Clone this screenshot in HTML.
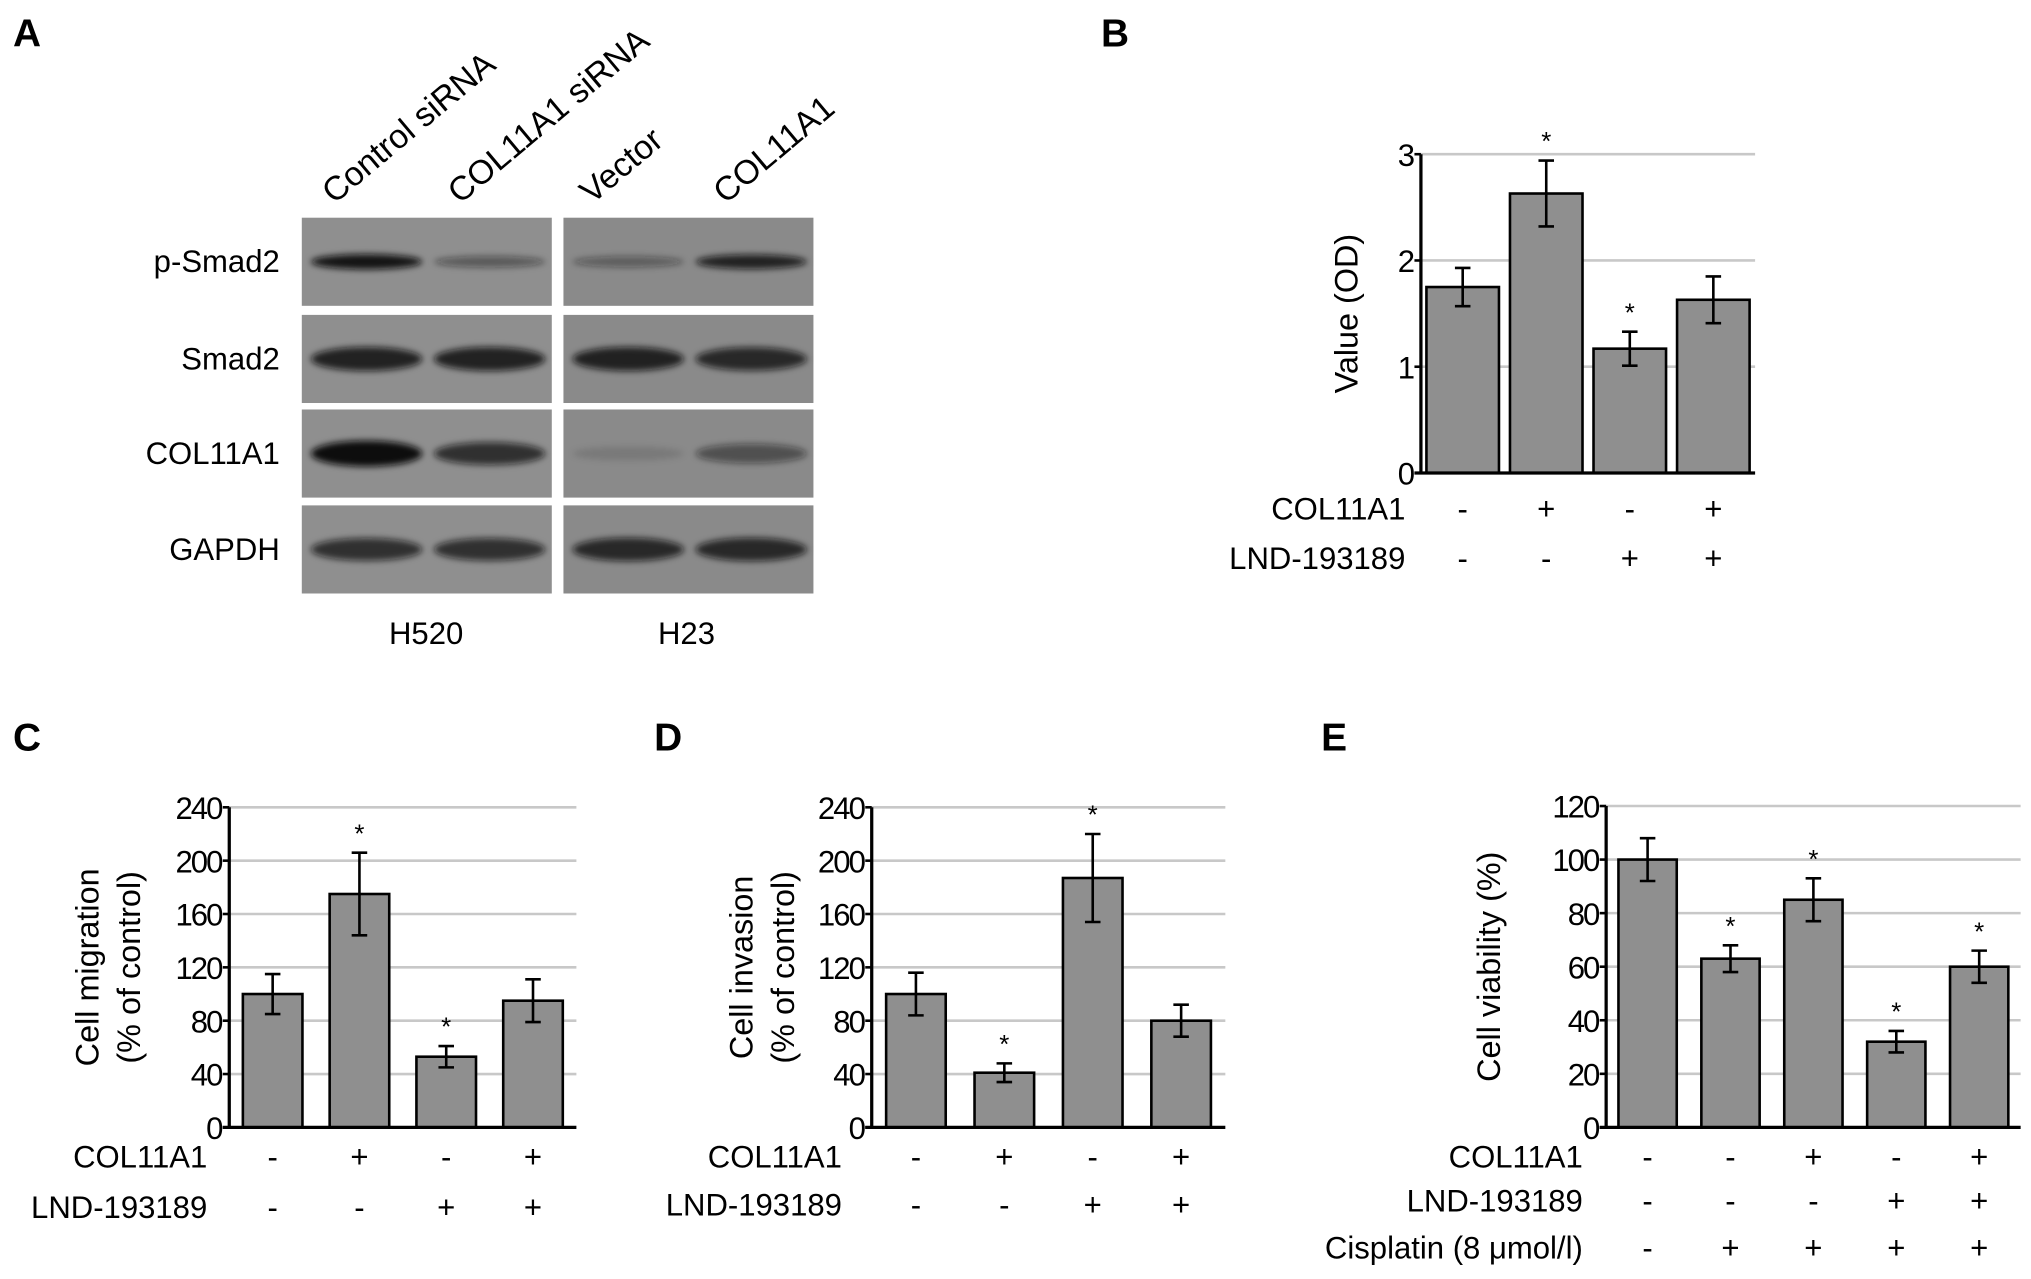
<!DOCTYPE html>
<html><head><meta charset="utf-8"><style>
html,body{margin:0;padding:0;background:#fff;}
svg{display:block;font-family:"Liberation Sans",Arial,sans-serif;}
.tk{font-size:24px;letter-spacing:-1.5px;}
.lb{font-size:24px;}
.ll{font-size:26px;}
.pl{font-size:30px;font-weight:bold;}
</style></head><body>
<svg id="fig" width="2031" height="1279" viewBox="0 0 1568 987" preserveAspectRatio="none" xmlns="http://www.w3.org/2000/svg">
<defs><filter id="bl" x="-20%" y="-100%" width="140%" height="300%"><feGaussianBlur stdDeviation="2.5"/></filter></defs>
<text class="pl" x="10" y="36">A</text>
<text class="pl" x="850" y="36">B</text>
<text class="pl" x="10" y="579">C</text>
<text class="pl" x="505" y="579">D</text>
<text class="pl" x="1020" y="579">E</text>
<g id="blot"></g>
<g id="charts"></g>
</svg>
<script>
// ---- Panel A blot data ----
const blotRows = ["p-Smad2","Smad2","COL11A1","GAPDH"];
const blotLanes = ["Control siRNA","COL11A1 siRNA","Vector","COL11A1"];
const bandIntensity = [[0.95,0.45,0.4,0.85],[0.85,0.85,0.85,0.8],[1.0,0.75,0.12,0.5],[0.75,0.75,0.8,0.8]];
const cellLines = ["H520","H23"];

// ---- Panel B ----
const bVals = [1.75,2.63,1.17,1.63];
const bErr = [0.18,0.31,0.16,0.22];
const bStar = [false,true,true,false];
const bTicks = [0,1,2,3];
const bRowNames = ["COL11A1","LND-193189"];
const bRows = [["-","+","-","+"],["-","-","+","+"]];
// ---- Panel C ----
const cVals = [100,175,53,95];
const cErr = [15,31,8,16];
const cStar = [false,true,true,false];
const cTicks = [0,40,80,120,160,200,240];
const cRowNames = ["COL11A1","LND-193189"];
const cRows = [["-","+","-","+"],["-","-","+","+"]];
// ---- Panel D ----
const dVals = [100,41,187,80];
const dErr = [16,7,33,12];
const dStar = [false,true,true,false];
const dTicks = [0,40,80,120,160,200,240];
const dRowNames = ["COL11A1","LND-193189"];
const dRows = [["-","+","-","+"],["-","-","+","+"]];
// ---- Panel E ----
const eVals = [100,63,85,32,60];
const eErr = [8,5,8,4,6];
const eStar = [false,true,true,true,true];
const eTicks = [0,20,40,60,80,100,120];
const eRowNames = ["COL11A1","LND-193189","Cisplatin (8 \u03bcmol/l)"];
const eRows = [["-","-","+","-","+"],["-","-","-","+","+"],["-","+","+","+","+"]];

const NS="http://www.w3.org/2000/svg";
function mk(tag,attrs,parent,txt){const e=document.createElementNS(NS,tag);for(const k in attrs)e.setAttribute(k,attrs[k]);if(txt!==undefined)e.textContent=txt;parent.appendChild(e);return e;}

// Blot
const blot=document.getElementById('blot');
const rowY=[168,243,316,390], rowH=68, blkX=[233,435], blkW=193;
blotRows.forEach((r,i)=>{
  const t=mk('text',{x:216,y:rowY[i]+rowH/2+8,'text-anchor':'end','class':'lb'},blot,r);
  
  blkX.forEach((bx,j)=>{
    const rc=mk('rect',{x:bx,y:rowY[i],width:blkW,height:rowH,fill:j? '#8a8a8a':'#8f8f8f'},blot);
    
    for(let k=0;k<2;k++){
      const li=j*2+k, v=bandIntensity[i][li];
      const cx=bx+50+k*95;
      const ry=i===0?3+v*3:5+v*5;
      const el=mk('ellipse',{cx:cx,cy:rowY[i]+rowH/2,rx:43,ry:ry,fill:'#111','fill-opacity':v,filter:'url(#bl)'},blot);
      
    }
  });
});
const laneX=[258,355,457,560];
blotLanes.forEach((l,i)=>{
  const t=mk('text',{x:laneX[i],y:158,'class':'ll',transform:`rotate(-40 ${laneX[i]} 158)`},blot,l);
  
});
cellLines.forEach((c,i)=>{
  const t=mk('text',{x:[329,530][i],y:497,'text-anchor':'middle','class':'lb'},blot,c);
  
});

// Bar chart
function chart(o){
  const g=mk('g',{},document.getElementById('charts'));
  
  const maxT=o.ticks[o.ticks.length-1];
  const y=v=>o.y0-(v/maxT)*(o.y0-o.yTop);
  const n=o.vals.length, step=(o.xEnd-o.ax)/n;
  const x=i=>o.ax+step*(i+0.5);
  o.ticks.forEach(t=>{
    if(t>0){const gl=mk('line',{x1:o.ax,x2:o.xEnd,y1:y(t),y2:y(t),stroke:'#c8c8c8','stroke-width':2},g);
      }
    const tl=mk('text',{x:o.ax-6,y:y(t)+9,'text-anchor':'end','class':'tk'},g,String(t));
    
    const tm=mk('line',{x1:o.ax-5,x2:o.ax,y1:y(t),y2:y(t),stroke:'#000','stroke-width':2},g);
    
  });
  o.vals.forEach((v,i)=>{
    const b=mk('rect',{x:x(i)-o.bw/2,y:y(v),width:o.bw,height:o.y0-y(v),fill:'#8f8f8f',stroke:'#000','stroke-width':2},g);
    
    const e=o.err[i];
    const eb=mk('path',{d:`M${x(i)} ${y(v+e)}V${y(v-e)}M${x(i)-6} ${y(v+e)}h12M${x(i)-6} ${y(v-e)}h12`,stroke:'#000','stroke-width':2,fill:'none'},g);
    
    if(o.star[i]){const s=mk('text',{x:x(i),y:y(v+e)-8,'text-anchor':'middle','font-size':'20'},g,'*');
      }
  });
  const ax=mk('path',{d:`M${o.ax} ${o.yTop}V${o.y0}M${o.ax-5} ${o.y0}H${o.xEnd}`,stroke:'#000','stroke-width':2.5,fill:'none'},g);
  
  o.rowNames.forEach((rn,r)=>{
    const ry=o.rowY[r];
    const t=mk('text',{x:o.rowX,y:ry,'text-anchor':'end','class':'lb'},g,rn);
    
    o.rows[r].forEach((s,i)=>{const c=mk('text',{x:x(i),y:ry,'text-anchor':'middle','class':'lb'},g,s);
      });
  });
  const mid=(o.y0+o.yTop)/2;
  o.title.forEach((tt,k)=>{
    const tx=o.titleX[k];
    const t=mk('text',{x:tx,y:mid,'text-anchor':'middle','font-size':'25',transform:`rotate(-90 ${tx} ${mid})`},g,tt);
    
  });
}
chart({name:'chart-b',vals:bVals,err:bErr,star:bStar,ticks:bTicks,ax:1097,xEnd:1355,y0:365,yTop:119,bw:56,rowNames:bRowNames,rows:bRows,rowY:[401,439],rowX:1085,title:["Value (OD)"],titleX:[1048]});
chart({name:'chart-c',vals:cVals,err:cErr,star:cStar,ticks:cTicks,ax:177,xEnd:445,y0:870,yTop:623,bw:46,rowNames:cRowNames,rows:cRows,rowY:[901,940],rowX:160,title:["Cell migration","(% of control)"],titleX:[76,108]});
chart({name:'chart-d',vals:dVals,err:dErr,star:dStar,ticks:dTicks,ax:673,xEnd:946,y0:870,yTop:623,bw:46,rowNames:dRowNames,rows:dRows,rowY:[901,938],rowX:650,title:["Cell invasion","(% of control)"],titleX:[581,613]});
chart({name:'chart-e',vals:eVals,err:eErr,star:eStar,ticks:eTicks,ax:1240,xEnd:1560,y0:870,yTop:622,bw:45,rowNames:eRowNames,rows:eRows,rowY:[901,935,971],rowX:1222,title:["Cell viability (%)"],titleX:[1158]});
</script>
</body></html>
